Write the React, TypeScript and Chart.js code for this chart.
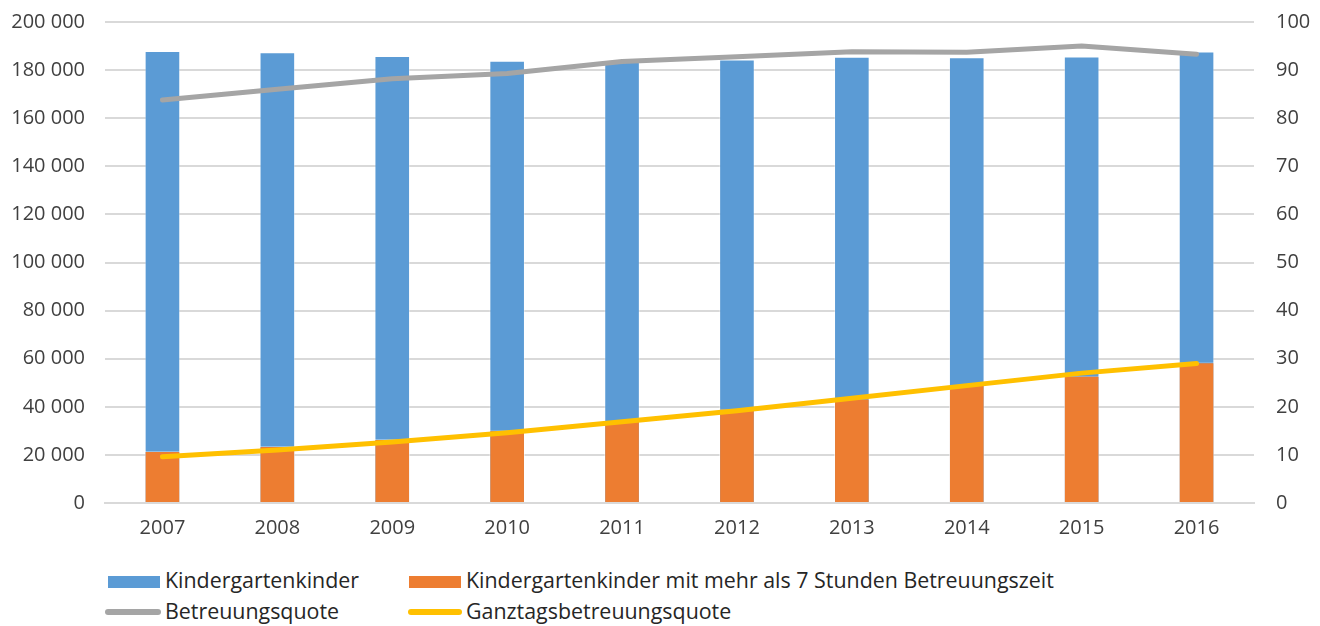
import React, { useEffect, useRef } from "react";
import { Chart, registerables } from "chart.js";

Chart.register(...registerables);

const years = ["2007", "2008", "2009", "2010", "2011", "2012", "2013", "2014", "2015", "2016"];
const kinder = [187900, 187400, 185900, 183900, 184200, 184400, 185600, 185300, 185700, 187700];
const kinderGanztag = [21600, 23700, 26600, 30300, 34100, 39200, 43500, 49100, 52900, 58500];
const betreuungsquote = [83.8, 86.0, 88.2, 89.3, 91.8, 92.8, 93.8, 93.7, 95.0, 93.3];
const ganztagsquote = [9.6, 11.0, 12.7, 14.6, 16.9, 19.2, 21.8, 24.4, 27.0, 29.0];

const labelKinder = "Kindergartenkinder";
const labelGanztag = "Kindergartenkinder mit mehr als 7 Stunden Betreuungszeit";
const labelQuote = "Betreuungsquote";
const labelGQuote = "Ganztagsbetreuungsquote";

const BLUE = "#5B9BD5";
const ORANGE = "#ED7D31";
const GRAY = "#A5A5A5";
const YELLOW = "#FFC000";
const FONT = "'Open Sans', 'DejaVu Sans', sans-serif";

function fmt(v: number) {
  return String(v).replace(/\B(?=(\d{3})+(?!\d))/g, " ");
}

export default function App() {
  const ref = useRef<HTMLCanvasElement | null>(null);

  useEffect(() => {
    const canvas = ref.current;
    if (!canvas) return;
    const chart = new Chart(canvas, {
      type: "bar",
      data: {
        labels: years,
        datasets: [
          {
            type: "line",
            label: labelGQuote,
            data: ganztagsquote,
            yAxisID: "y1",
            borderColor: YELLOW,
            backgroundColor: YELLOW,
            borderWidth: 5,
            pointRadius: 0,
            borderCapStyle: "round",
            borderJoinStyle: "round",
            tension: 0,
            order: 0,
          },
          {
            type: "line",
            label: labelQuote,
            data: betreuungsquote,
            yAxisID: "y1",
            borderColor: GRAY,
            backgroundColor: GRAY,
            borderWidth: 5,
            pointRadius: 0,
            borderCapStyle: "round",
            borderJoinStyle: "round",
            tension: 0,
            order: 1,
          },
          {
            type: "bar",
            label: labelGanztag,
            data: kinderGanztag,
            yAxisID: "y",
            backgroundColor: ORANGE,
            borderColor: "rgba(255,255,255,0.35)",
            borderWidth: 1,
            barPercentage: 0.31,
            categoryPercentage: 1,
            order: 2,
          },
          {
            type: "bar",
            label: labelKinder,
            data: kinder,
            yAxisID: "y",
            backgroundColor: BLUE,
            borderColor: "rgba(255,255,255,0.35)",
            borderWidth: 1,
            barPercentage: 0.31,
            categoryPercentage: 1,
            order: 3,
          },
        ],
      },
      options: {
        responsive: false,
        animation: false,
        maintainAspectRatio: false,
        layout: { padding: { top: 22, left: 0, right: 0, bottom: 0 } },
        plugins: {
          legend: { display: false },
          tooltip: { enabled: false },
        },
        scales: {
          x: {
            stacked: true,
            grid: { display: false, drawTicks: false },
            border: { display: true, color: "#D9D9D9", width: 2 },
            ticks: { color: "#404040", font: { family: FONT, size: 20 }, padding: 13 },
            afterFit: (s: any) => {
              s.height = 42;
              s.paddingLeft = 0;
              s.paddingRight = 0;
            },
          },
          y: {
            position: "left",
            stacked: false,
            min: 0,
            max: 200000,
            ticks: {
              stepSize: 20000,
              color: "#404040",
              font: { family: FONT, size: 20 },
              padding: 20,
              callback: (v: any) => fmt(Number(v)),
            },
            grid: { color: "#D9D9D9", lineWidth: 2, drawTicks: false },
            border: { display: false },
            afterFit: (s: any) => {
              s.width = 105;
              s.paddingTop = 0;
              s.paddingBottom = 0;
            },
          },
          y1: {
            position: "right",
            min: 0,
            max: 100,
            ticks: {
              stepSize: 10,
              color: "#404040",
              font: { family: FONT, size: 20 },
              padding: 22,
            },
            grid: { display: false, drawTicks: false },
            border: { display: false },
            afterFit: (s: any) => {
              s.width = 66;
              s.paddingTop = 0;
              s.paddingBottom = 0;
            },
          },
        },
      },
    } as any);
    return () => chart.destroy();
  }, []);

  const textStyle: React.CSSProperties = {
    position: "absolute",
    fontFamily: FONT,
    fontSize: 21.4,
    color: "#262626",
    lineHeight: "24px",
    whiteSpace: "nowrap",
  };

  return (
    <div style={{ position: "absolute", left: 0, top: 0, width: 1320, height: 626, background: "#fff", overflow: "hidden" }}>
      <canvas ref={ref} width={1320} height={545} style={{ position: "absolute", left: 0, top: 0, width: 1320, height: 545 }} />
      <div style={{ position: "absolute", left: 108, top: 576, width: 52, height: 12, background: BLUE }} />
      <div style={{ ...textStyle, left: 165, top: 568 }}>{labelKinder}</div>
      <div style={{ position: "absolute", left: 409, top: 576, width: 52, height: 12, background: ORANGE }} />
      <div style={{ ...textStyle, left: 466, top: 568 }}>{labelGanztag}</div>
      <div style={{ position: "absolute", left: 105, top: 609, width: 56, height: 6, borderRadius: 3, background: GRAY }} />
      <div style={{ ...textStyle, left: 165, top: 599 }}>{labelQuote}</div>
      <div style={{ position: "absolute", left: 408, top: 609, width: 54, height: 6, borderRadius: 3, background: YELLOW }} />
      <div style={{ ...textStyle, left: 466, top: 599 }}>{labelGQuote}</div>
    </div>
  );
}
